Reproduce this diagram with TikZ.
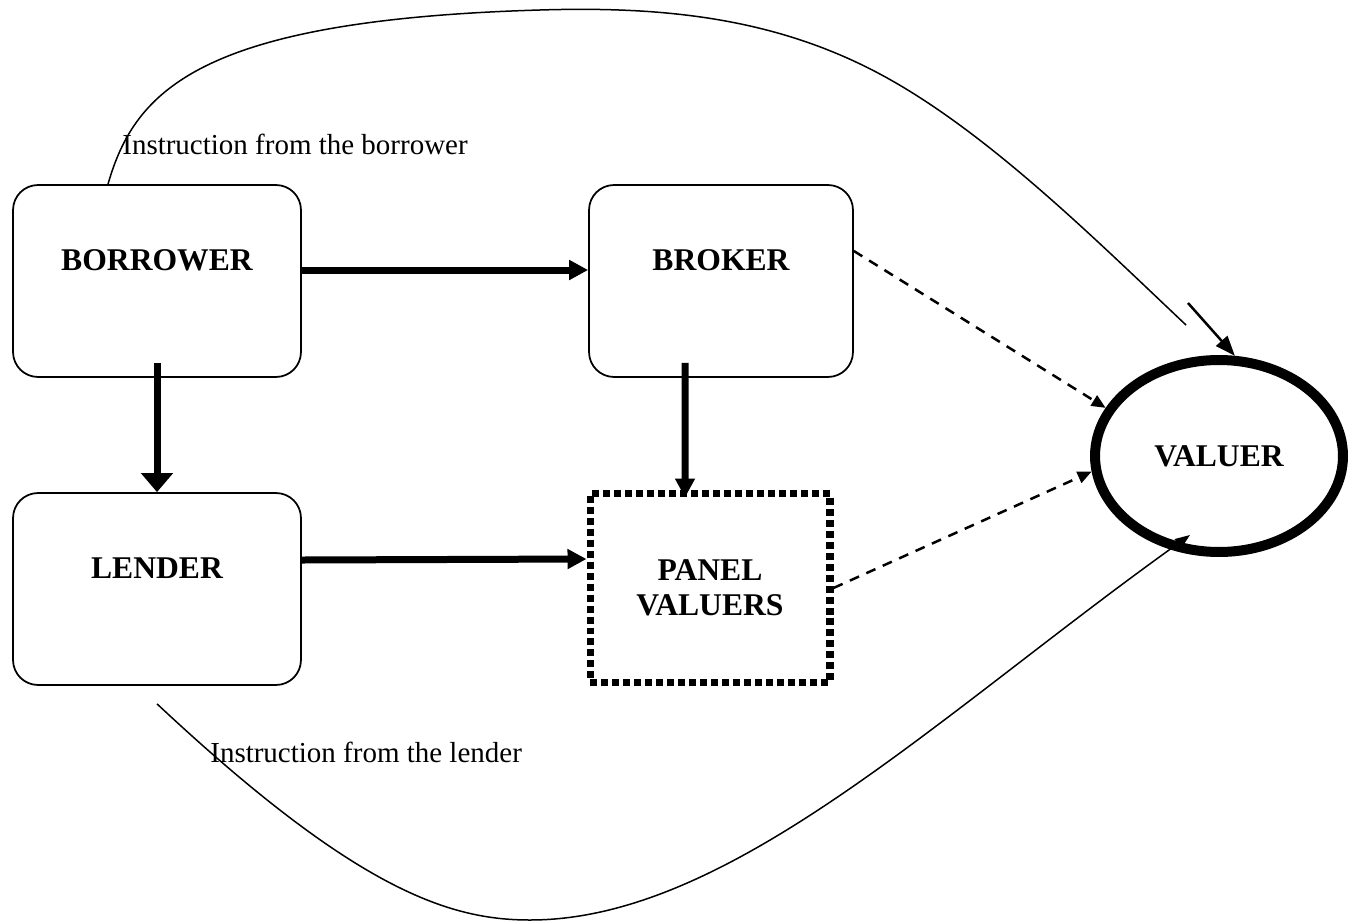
\documentclass[tikz,border=0pt]{standalone}
\usepackage{fontspec}
\setmainfont{Liberation Serif}
\usetikzlibrary{arrows.meta,shapes.geometric,backgrounds}

\begin{document}
\begin{tikzpicture}[x=0.02cm, y=-0.02cm,
  every node/.style={font=\fontsize{18}{20}\selectfont\bfseries},
  partybox/.style={draw, line width=1pt, rounded corners=0.5cm, minimum width=5.76cm,
    inner ysep=0pt, text height=1.7cm, text depth=2.14cm},
  panelbox/.style={draw, line width=4pt, dash pattern=on 0.14cm off 0.08cm,
    minimum width=4.8cm, minimum height=3.78cm, align=center,
    font=\fontsize{18}{19.8}\selectfont\bfseries},
  valuerring/.style={draw, ellipse, line width=0.2cm, minimum width=4.96cm, minimum height=3.84cm},
  heavy/.style={line width=0.14cm, -{Triangle[length=0.38cm, width=0.38cm]}},
  dashedlink/.style={line width=0.05cm, dash pattern=on 0.2cm off 0.16cm,
    -{Triangle[length=0.28cm, width=0.24cm]}},
  instrcurve/.style={line width=0.03cm},
  instr/.style={font=\fontsize{16.5}{18}\selectfont, anchor=base west, inner sep=0pt}]
  \useasboundingbox (0,0) rectangle (1348,922);

  % parties
  \node[partybox] (borrower) at (157,281) {BORROWER};
  \node[partybox, minimum width=5.28cm] (broker) at (721,281) {BROKER};
  \node[partybox] (lender) at (157,589) {LENDER};
  \node[panelbox] (panel) at (710,588) {PANEL\\VALUERS};
  \node[valuerring] (valuer) at (1219,456) {VALUER};

  % instruction labels
  \node[instr] (borrowerinstr) at (122,155) {Instruction from the borrower};
  \node[instr] (lenderinstr) at (210,762) {Instruction from the lender};

  \coordinate (borrowerexit) at ([xshift=-0.98cm]borrower.north);
  \coordinate (borrowerend) at (1186,325);
  \coordinate (borrowertip) at (1188,303);
  \coordinate (lenderexit) at ([yshift=-0.36cm]lender.south);
  \coordinate (lenderarrival) at (1190,535);

  \begin{scope}[on background layer]
    % solid flows
    \draw[heavy] ([yshift=0.22cm]borrower.east) -- ([yshift=0.22cm]broker.west);
    \draw[heavy, -{Triangle[length=0.38cm, width=0.62cm]}] ([yshift=0.3cm]borrower.south) -- (lender.north);
    \draw[heavy] ([xshift=-0.72cm, yshift=0.3cm]broker.south) -- ([xshift=-0.5cm, yshift=-0.15cm]panel.north);
    \draw[heavy] ([yshift=0.58cm]lender.east) -- ([yshift=0.58cm]panel.west);
    % dashed flows
    \draw[dashedlink] ([yshift=0.6cm]broker.east) -- (valuer.157);
    \draw[dashedlink] (panel.east) -- (valuer.187);
    % instruction from the borrower
    \draw[instrcurve] (borrowerexit) .. controls (135,90) and (200,20) .. (540,10)
      .. controls (670,6) and (786,19) .. (896,83)
      .. controls (996,141) and (1096,240) .. (borrowerend);
    \draw[line width=0.05cm, -{Triangle[length=0.4cm, width=0.3cm]}] (borrowertip) -- (valuer.81);
    % instruction from the lender
    \draw[instrcurve, -{Triangle[length=0.3cm, width=0.22cm]}] (lenderexit)
      .. controls (357,891) and (450,920) .. (530,920)
      .. controls (730,920) and (938,715) .. (lenderarrival);
  \end{scope}
\end{tikzpicture}
\end{document}
